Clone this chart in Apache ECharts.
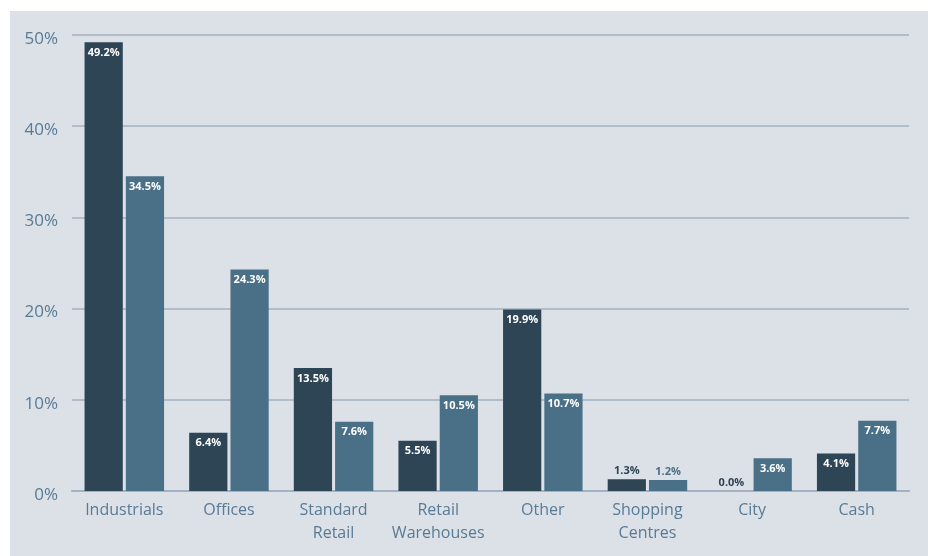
<!DOCTYPE html>
<html><head><meta charset="utf-8">
<script src="https://cdn.jsdelivr.net/npm/echarts@6/dist/echarts.min.js"></script>
<style>html,body{margin:0;padding:0;background:#fff}#c{width:928px;height:556px}</style>
</head><body><div id="c"></div>
<script>
const categories = ['Industrials','Offices','Standard\nRetail','Retail\nWarehouses','Other','Shopping\nCentres','City','Cash'];
const seriesA = [49.2, 6.4, 13.5, 5.5, 19.9, 1.3, 0.0, 4.1];
const seriesB = [34.5, 24.3, 7.6, 10.5, 10.7, 1.2, 3.6, 7.7];
const yTicks = [0, 10, 20, 30, 40, 50];
const colorA = '#2e4556';
const colorB = '#4a7088';
const FONT = '"Open Sans", "Noto Sans", sans-serif';

function build(vals, color) {
  return vals.map(v => {
    if (v < 2) {
      return {value: v, label: {position: 'top', color: color, distance: 3}};
    }
    return {value: v};
  });
}
function mkSeries(vals, color) {
  return {
    type: 'bar',
    data: build(vals, color),
    itemStyle: {color: color},
    barGap: '8%',
    barCategoryGap: '24%',
    label: {
      show: true, position: 'insideTop', distance: 5,
      color: '#ffffff', fontFamily: FONT, fontWeight: 'bold', fontSize: 11,
      formatter: p => p.value.toFixed(1) + '%'
    }
  };
}
const chart = echarts.init(document.getElementById('c'), null, {renderer: 'canvas'});
chart.setOption({
  animation: false,
  graphic: [{type: 'rect', z: -10, silent: true, shape: {x: 10, y: 11, width: 918, height: 545}, style: {fill: '#dce0e7'}}],
  grid: {left: 72, right: 19, top: 35, bottom: 65},
  xAxis: {
    type: 'category', data: categories,
    axisLine: {lineStyle: {color: '#a3b2c2', width: 2}},
    axisTick: {show: false},
    axisLabel: {interval: 0, color: '#587b95', fontFamily: FONT, fontSize: 16, lineHeight: 23, margin: 8}
  },
  yAxis: {
    type: 'value', min: yTicks[0], max: yTicks[yTicks.length-1], interval: 10,
    axisLine: {show: false}, axisTick: {show: false},
    splitLine: {lineStyle: {color: '#a3b2c2', width: 1.5}},
    axisLabel: {color: '#587b95', fontFamily: FONT, fontSize: 17, margin: 14, verticalAlign: 'top', lineHeight: 8, formatter: v => v + '%'}
  },
  series: [mkSeries(seriesA, colorA), mkSeries(seriesB, colorB)]
});
</script></body></html>
